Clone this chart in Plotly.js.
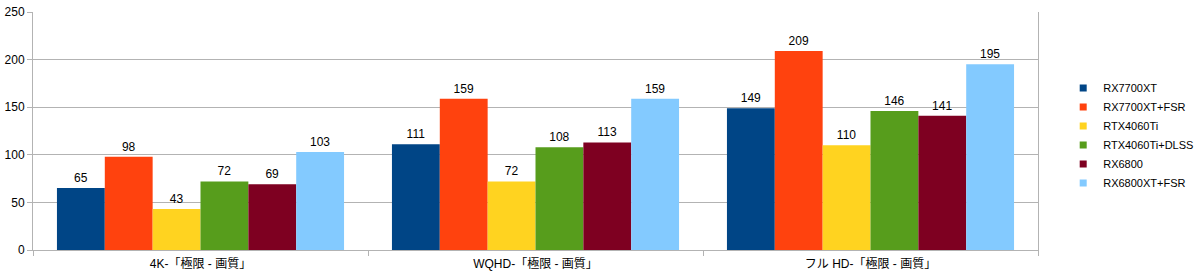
<!DOCTYPE html>
<html><head><meta charset="utf-8">
<script src="https://cdn.plot.ly/plotly-3.0.1.min.js"></script>
<style>html,body{margin:0;padding:0;background:#fff}#c{width:1200px;height:278px}</style>
</head><body><div id="c"></div>
<script>
const categories = ["4K-「極限 - 画質」", "WQHD-「極限 - 画質」", "フル HD-「極限 - 画質」"];
const seriesNames = ["RX7700XT", "RX7700XT+FSR", "RTX4060Ti", "RTX4060Ti+DLSS", "RX6800", "RX6800XT+FSR"];
const rx7700xt = [65, 111, 149];
const rx7700xtFsr = [98, 159, 209];
const rtx4060ti = [43, 72, 110];
const rtx4060tiDlss = [72, 108, 146];
const rx6800 = [69, 113, 141];
const rx6800xtFsr = [103, 159, 195];
const colors = ["#004586", "#ff420e", "#ffd320", "#579d1c", "#7e0021", "#83caff"];
const seriesValues = [rx7700xt, rx7700xtFsr, rtx4060ti, rtx4060tiDlss, rx6800, rx6800xtFsr];
const yTicks = [0, 50, 100, 150, 200, 250];

const traces = seriesValues.map((v, i) => ({
  type: "bar", name: seriesNames[i], x: categories, y: v,
  marker: {color: colors[i], line: {width: 0}},
  text: v.map(String), textposition: "outside", cliponaxis: false,
  textfont: {family: "Liberation Sans, Arial, sans-serif", size: 12, color: "#000"},
  hoverinfo: "none", showlegend: false
}));
// legend entries with small square swatches
seriesNames.forEach((n, i) => traces.push({
  type: "scatter", mode: "markers", name: n, x: [null], y: [null],
  marker: {symbol: "square", size: 7, color: colors[i]}, hoverinfo: "none", showlegend: true
}));

const layout = {
  width: 1200, height: 278,
  margin: {l: 33, r: 162, t: 12, b: 28},
  paper_bgcolor: "#fff", plot_bgcolor: "#fff",
  font: {family: "Liberation Sans, Arial, 'Noto Sans CJK JP', sans-serif", size: 12, color: "#000"},
  barmode: "group", bargap: 0.143, bargroupgap: 0,
  showlegend: true,
  legend: {xref: "container", yref: "container", x: 0.886, y: 0.513, xanchor: "left", yanchor: "middle",
           font: {size: 11, color: "#000"}, itemwidth: 30, tracegroupgap: 0, traceorder: "normal"},
  xaxis: {
    type: "category",
    showline: true, linecolor: "#b3b3b3", linewidth: 1,
    ticks: "outside", tickson: "boundaries", ticklen: 5, tickcolor: "#b3b3b3",
    ticklabelstandoff: 3,
    tickfont: {size: 12, color: "#000"}, showgrid: false
  },
  yaxis: {
    range: [0, 250], tickvals: yTicks, ticktext: yTicks.map(String),
    showline: true, mirror: true, linecolor: "#b3b3b3", linewidth: 1,
    ticks: "outside", ticklen: 5, tickcolor: "#b3b3b3",
    showgrid: true, gridcolor: "#b3b3b3", gridwidth: 1, zeroline: false,
    tickfont: {size: 12, color: "#000"}
  }
};
Plotly.newPlot("c", traces, layout, {staticPlot: true});
</script></body></html>
